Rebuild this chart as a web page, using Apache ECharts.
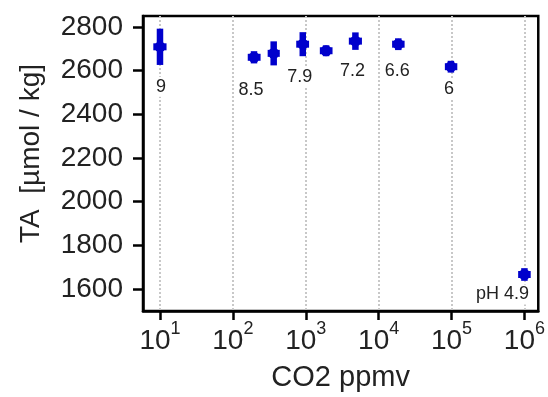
<!DOCTYPE html>
<html>
<head>
<meta charset="utf-8">
<script src="https://cdn.jsdelivr.net/npm/echarts@6/dist/echarts.min.js"></script>
<style>
  html, body { margin: 0; background: #fff; }
  #chart { width: 548px; height: 397px; }
</style>
</head>
<body>
<div id="chart"></div>
<script>
// CO2 partial pressure (ppmv) and total alkalinity (umol/kg)
const co2 = [10, 195, 363, 910, 1900, 4800, 18600, 98000, 1000000];
const co2Lo = [8.1, 160, 300, 740, 1560, 3900, 15300, 81000, 820000];
const co2Hi = [12.3, 240, 440, 1110, 2330, 5900, 22700, 120000, 1220000];
const ta = [2709, 2661, 2679, 2721, 2691, 2735, 2721, 2618, 1667];
const taErr = [83, 28, 55, 55, 25, 40, 27, 27, 29];
const phLabels = ['9', '8.5', '', '7.9', '', '7.2', '6.6', '6', 'pH 4.9'];
const yTicks = [1600, 1800, 2000, 2200, 2400, 2600, 2800];
const xTicks = [10, 100, 1000, 10000, 100000, 1000000];

const FONT = 'Liberation Sans, Arial, Helvetica, sans-serif';
const blue = '#0000cc';
// label nudges (px) relative to each point centre
const labelShift = [[1, 40], [-3, 33], [0, 0], [-3, 33], [0, 0], [-3, 30], [-1, 27], [-2, 22], [-22, 20]];

const chart = echarts.init(document.getElementById('chart'));

function renderPoint(params, api) {
  const i = params.dataIndex;
  const x = api.value(0), y = api.value(1);
  const c = api.coord([x, y]);
  const top = api.coord([x, y + api.value(2)]);
  const bot = api.coord([x, y - api.value(2)]);
  const lo = api.coord([api.value(3), y]);
  const hi = api.coord([api.value(4), y]);
  const children = [
    { type: 'line', shape: { x1: c[0], y1: top[1], x2: c[0], y2: bot[1] }, style: { stroke: blue, lineWidth: 6.5 } },
    { type: 'line', shape: { x1: lo[0], y1: c[1], x2: hi[0], y2: c[1] }, style: { stroke: blue, lineWidth: 7 } },
    { type: 'circle', shape: { cx: c[0], cy: c[1], r: 5.5 }, style: { fill: blue } }
  ];
  if (phLabels[i]) {
    children.push({
      type: 'text',
      x: c[0] + labelShift[i][0],
      y: c[1] + labelShift[i][1],
      style: {
        text: phLabels[i], fontSize: 18, fontFamily: FONT, fill: '#222',
        align: 'center', verticalAlign: 'middle',
        backgroundColor: '#fff', padding: [1, 2]
      }
    });
  }
  return { type: 'group', children };
}

const option = {
  animation: false,
  grid: {
    left: 143, top: 16, right: 9, bottom: 84,
    show: true, borderColor: '#000', borderWidth: 2.5, backgroundColor: 'transparent'
  },
  xAxis: {
    type: 'log',
    min: Math.pow(10, 0.767),
    max: Math.pow(10, 6.19),
    name: 'CO2 ppmv',
    nameLocation: 'middle',
    nameGap: 52,
    nameTextStyle: { fontSize: 29, fontFamily: FONT, color: '#222' },
    axisLine: { lineStyle: { color: '#000', width: 2.5 } },
    axisTick: { customValues: xTicks, length: 9, inside: false, lineStyle: { color: '#000', width: 2.5 } },
    axisLabel: {
      customValues: xTicks,
      margin: 9,
      formatter: function (v) {
        return '{b|10}{s|' + Math.round(Math.log10(v)) + '}';
      },
      rich: {
        b: { fontSize: 28, fontFamily: FONT, color: '#222', lineHeight: 35, verticalAlign: 'bottom' },
        s: { fontSize: 18, fontFamily: FONT, color: '#222', lineHeight: 20, verticalAlign: 'top' }
      }
    },
    splitLine: { show: true, lineStyle: { color: '#c8c8c8', width: 2, type: 'dotted' } }
  },
  yAxis: {
    type: 'value',
    min: 1500,
    max: 2850,
    name: 'TA  [µmol / kg]',
    nameLocation: 'middle',
    nameGap: 98,
    nameTextStyle: { fontSize: 28, fontFamily: FONT, color: '#222', padding: [0, 0, 0, 20] },
    axisLine: { lineStyle: { color: '#000', width: 2.5 } },
    axisTick: { customValues: yTicks, length: 10, lineStyle: { color: '#000', width: 2.5 } },
    axisLabel: {
      customValues: yTicks, margin: 20, fontSize: 28, fontFamily: FONT, color: '#222',
      formatter: function (v) { return String(v); }
    },
    splitLine: { show: false }
  },
  series: [{
    type: 'custom',
    renderItem: renderPoint,
    encode: { x: 0, y: 1 },
    data: co2.map((c, i) => [c, ta[i], taErr[i], co2Lo[i], co2Hi[i]]),
    z: 5
  }]
};

chart.setOption(option);
</script>
</body>
</html>
